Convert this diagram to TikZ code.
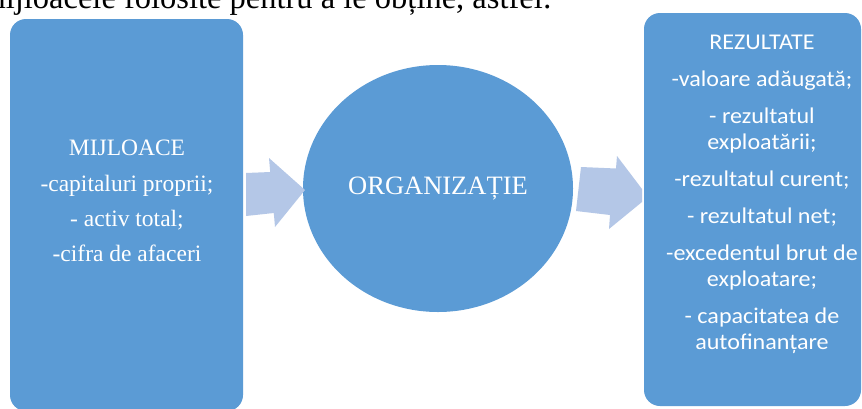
\documentclass[tikz,border=0pt]{standalone}
\usepackage{fontspec}
\setmainfont{Liberation Serif}
\newfontfamily\calfont[FakeStretch=1.07]{Carlito}
\usetikzlibrary{shapes.geometric}
\definecolor{boxblue}{HTML}{5B9BD5}
\definecolor{arrowblue}{HTML}{B4C7E7}
\tikzset{
  blockbox/.style={draw=none, fill=boxblue, rounded corners=16pt, inner sep=0pt},
  bigarrow/.style={draw=none, fill=arrowblue},
  serifwhite/.style={text=white, align=center, inner sep=0pt},
}
\begin{document}
\begin{tikzpicture}[x=1pt, y=-1pt]
  \useasboundingbox (0,0) rectangle (862,408);
  \clip (0,0) rectangle (862,408);
  \fill[white] (0,0) rectangle (862,408);

  % running text above the scheme
  \node[anchor=base east, inner sep=0pt, font=\fontsize{32.5}{36}\selectfont] (intro) at (552,8)
    {mijloacele folosite pentru a le obține, astfel:};

  % left block: means
  \node[blockbox, minimum width=233pt, minimum height=392pt] (mij) at (126.5,215) {};
  \node[serifwhite, font=\fontsize{23.5}{35.3}\selectfont] (mijtext) at (127,201)
    {MIJLOACE\\-capitaluri proprii;\\- activ total;\\-cifra de afaceri};

  % centre: the organisation
  \node[ellipse, draw=none, fill=boxblue, minimum width=270pt, minimum height=247pt, inner sep=0pt] (org) at (438,188.5) {};
  \node[serifwhite, font=\fontsize{26.5}{30}\selectfont] (orgtext) at (438,189) {ORGANIZAȚIE};

  % right block: results
  \node[blockbox, minimum width=217pt, minimum height=393pt] (rez) at (752.5,209.5) {};
  \node[serifwhite, font=\calfont\fontsize{22.5}{26}\selectfont] (reztext) at (762,194)
    {REZULTATE\\[11pt]-valoare adăugată;\\[11pt]- rezultatul\\exploatării;\\[11pt]-rezultatul curent;\\[11pt]- rezultatul net;\\[11pt]-excedentul brut de\\exploatare;\\[11pt]- capacitatea de\\autofinanțare};

  % block arrows between the parts
  \fill[bigarrow] (246,173) -- (270.2,172) -- (269,158) -- (305,190) -- (275,227) -- (273.8,213) -- (246,216) -- cycle;
  \fill[bigarrow] (581,167) -- (616,168.5) -- (617,156) -- (642,189) -- (642,202) -- (609,229) -- (610,215) -- (576,211) -- cycle;
\end{tikzpicture}
\end{document}
